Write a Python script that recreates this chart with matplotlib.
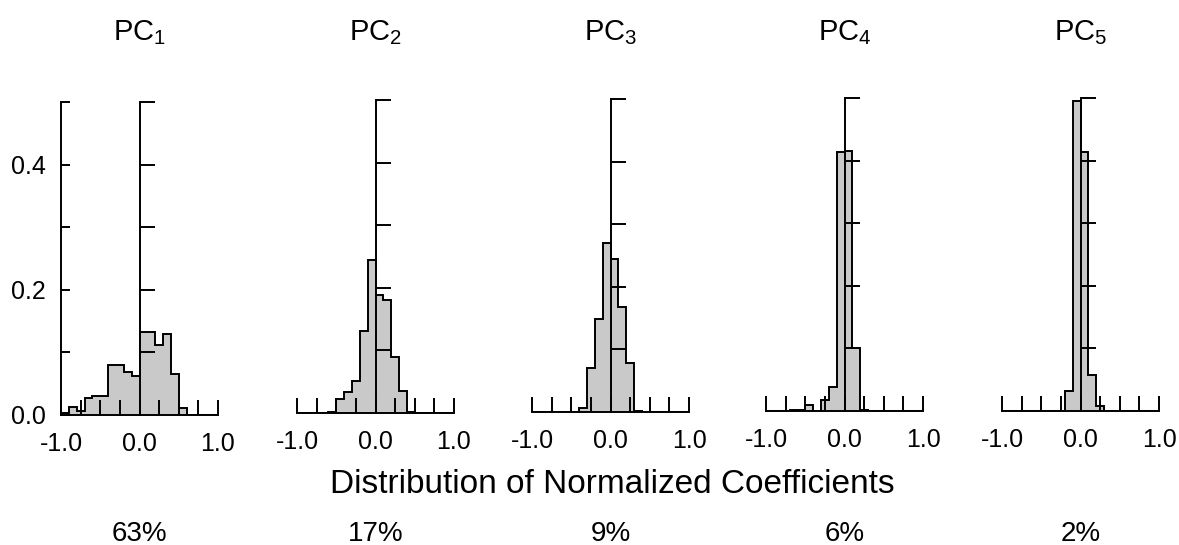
"""Distribution of normalized coefficients for the first five PCs."""
import numpy as np
import matplotlib
matplotlib.use("Agg")
import matplotlib.pyplot as plt

plt.rcParams["font.family"] = ["Liberation Sans", "DejaVu Sans"]
plt.rcParams["mathtext.fontset"] = "custom"
plt.rcParams["mathtext.rm"] = "Liberation Sans"
plt.rcParams["mathtext.it"] = "Liberation Sans:italic"

# bin edges -1.0 .. 1.0 in 0.1 steps; heights (fraction)
bin_edges = [-1.0, -0.9, -0.8, -0.7, -0.6, -0.5, -0.4, -0.3, -0.2, -0.1, 0.0,
             0.1, 0.2, 0.3, 0.4, 0.5, 0.6, 0.7, 0.8, 0.9, 1.0]
pc1 = [0.003, 0.013, 0.007, 0.027, 0.030, 0.030, 0.080, 0.080, 0.068, 0.062,
       0.133, 0.133, 0.112, 0.129, 0.065, 0.011, 0, 0, 0, 0]
pc2 = [0, 0, 0, 0, 0.002, 0.022, 0.034, 0.051, 0.131, 0.244,
       0.188, 0.180, 0.089, 0.035, 0.002, 0, 0, 0, 0, 0]
pc3 = [0, 0, 0, 0, 0, 0, 0.006, 0.071, 0.149, 0.270,
       0.244, 0.167, 0.079, 0.002, 0, 0, 0, 0, 0, 0]
pc4 = [0, 0, 0, 0.002, 0.002, 0.010, 0, 0.018, 0.039, 0.413,
       0.415, 0.100, 0.002, 0, 0, 0, 0, 0, 0, 0]
pc5 = [0, 0, 0, 0, 0, 0, 0, 0, 0.032, 0.496,
       0.414, 0.057, 0.008, 0, 0, 0, 0, 0, 0, 0]
panel_names = ["PC$_1$", "PC$_2$", "PC$_3$", "PC$_4$", "PC$_5$"]
variance = ["63%", "17%", "9%", "6%", "2%"]
series = [pc1, pc2, pc3, pc4, pc5]

xticks_major = [-1.0, 0.0, 1.0]
xticks_minor = [-0.75, -0.5, -0.25, 0.25, 0.5, 0.75]
yticks = [0.1, 0.2, 0.3, 0.4, 0.5]
ylabel_ticks = [0.0, 0.2, 0.4]

W, H = 1179, 545
fig = plt.figure(figsize=(W / 100, H / 100), dpi=100)

# pixel layout of each panel: x of -1.0, baseline y
left_px = [61, 297, 532, 766, 1002]
base_px = [415, 413, 412, 411, 411]
width_px, height_px = 157, 313

tick_fs = 18
lw = 1.4
for i, (vals, name, pct) in enumerate(zip(series, panel_names, variance)):
    ax = fig.add_axes([left_px[i] / W, 1 - base_px[i] / H,
                       width_px / W, height_px / H])
    ax.set_xlim(-1, 1)
    ax.set_ylim(0, 0.5)
    ax.set_facecolor("none")

    ax.stairs(vals, bin_edges, fill=True, color="#c9c9c9", zorder=1)
    ax.stairs(vals, bin_edges, color="black", linewidth=lw, zorder=1.2)

    for s in ("top", "right"):
        ax.spines[s].set_visible(False)
    ax.spines["left"].set_position(("data", 0))
    ax.spines["left"].set_linewidth(lw)
    ax.spines["bottom"].set_linewidth(lw)

    ax.set_xticks(xticks_major)
    ax.set_xticklabels(["-1.0", "0.0", "1.0"])
    ax.set_xticks(xticks_minor, minor=True)
    ax.tick_params(axis="x", which="both", direction="in", length=10.8,
                   width=lw, labelsize=tick_fs, pad=12)
    ax.set_yticks(yticks)
    ax.tick_params(axis="y", direction="in", length=11, width=lw,
                   labelleft=False)

    if i == 0:
        sec = ax.secondary_yaxis("left")
        sec.set_yticks(ylabel_ticks + [0.1, 0.3, 0.5])
        sec.set_yticklabels(["0.0", "0.2", "0.4", "", "", ""])
        sec.tick_params(direction="in", length=6.5, width=lw,
                        labelsize=tick_fs, pad=11)
        sec.spines["left"].set_linewidth(lw)

    x0 = (left_px[i] + width_px / 2) / W
    fig.text(x0, 1 - 40 / H, name, ha="center", va="baseline", fontsize=21)
    fig.text(x0, 1 - 541 / H, pct, ha="center", va="baseline", fontsize=20)

fig.text(612 / W, 1 - 493 / H, "Distribution of Normalized Coefficients",
         ha="center", va="baseline", fontsize=24)

fig.savefig("out.png", dpi=100)
